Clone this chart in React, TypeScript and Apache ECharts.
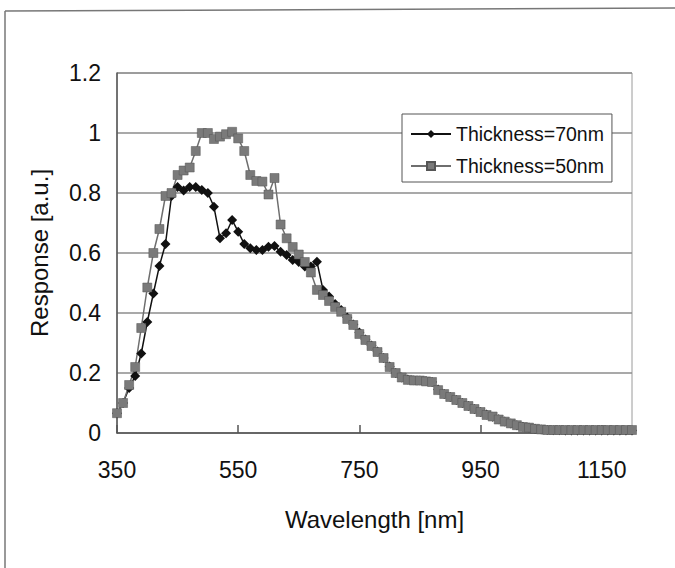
import React, { useEffect, useRef } from "react";
import * as echarts from "echarts";

const wavelengths = [
  350, 360, 370, 380, 390, 400, 410, 420, 430, 440, 450, 460, 470, 480, 490, 500,
  510, 520, 530, 540, 550, 560, 570, 580, 590, 600, 610, 620, 630, 640, 650, 660,
  670, 680, 690, 700, 710, 720, 730, 740, 750, 760, 770, 780, 790, 800, 810, 820,
  830, 840, 850, 860, 870, 880, 890, 900, 910, 920, 930, 940, 950, 960, 970, 980,
  990, 1000, 1010, 1020, 1030, 1040, 1050, 1060, 1070, 1080, 1090, 1100, 1110, 1120,
  1130, 1140, 1150, 1160, 1170, 1180, 1190, 1200,
];

const thickness70 = [
  0.066, 0.1, 0.15, 0.19, 0.265, 0.37, 0.465, 0.557, 0.63, 0.79, 0.82, 0.808, 0.82, 0.82, 0.81, 0.8,
  0.754, 0.649, 0.666, 0.71, 0.671, 0.63, 0.616, 0.61, 0.61, 0.621, 0.623, 0.604, 0.593, 0.577, 0.57, 0.555,
  0.555, 0.571, 0.477, 0.455, 0.43, 0.41, 0.385, 0.362, 0.335, 0.312, 0.292, 0.272, 0.25, 0.222, 0.2, 0.185,
  0.178, 0.176, 0.175, 0.173, 0.17, 0.145, 0.13, 0.12, 0.11, 0.1, 0.09, 0.08, 0.07, 0.062, 0.054, 0.046,
  0.038, 0.032, 0.026, 0.021, 0.018, 0.014, 0.012, 0.01, 0.009, 0.009, 0.008, 0.008, 0.008, 0.008,
  0.008, 0.008, 0.008, 0.008, 0.008, 0.008, 0.008, 0.008,
];

const thickness50 = [
  0.066, 0.1, 0.16, 0.22, 0.35, 0.485, 0.6, 0.68, 0.79, 0.8, 0.86, 0.875, 0.885, 0.94, 1.0, 1.0,
  0.98, 0.988, 0.996, 1.004, 0.982, 0.94, 0.86, 0.84, 0.838, 0.795, 0.85, 0.695, 0.649, 0.62, 0.595, 0.57,
  0.535, 0.477, 0.46, 0.44, 0.42, 0.404, 0.38, 0.36, 0.33, 0.31, 0.29, 0.27, 0.25, 0.22, 0.2, 0.185,
  0.177, 0.175, 0.175, 0.172, 0.17, 0.143, 0.13, 0.12, 0.11, 0.1, 0.09, 0.08, 0.07, 0.06, 0.055, 0.045,
  0.038, 0.032, 0.026, 0.02, 0.018, 0.014, 0.012, 0.01, 0.01, 0.01, 0.01, 0.01, 0.01, 0.01,
  0.01, 0.01, 0.01, 0.01, 0.01, 0.01, 0.01, 0.01,
];

const seriesNames = ["Thickness=70nm", "Thickness=50nm"];
const xTitle = "Wavelength [nm]";
const yTitle = "Response [a.u.]";

const FONT = "Liberation Sans, Arial, sans-serif";

export default function App() {
  const ref = useRef<HTMLDivElement>(null);
  useEffect(() => {
    document.body.style.margin = "0";
    const chart = echarts.init(ref.current!, undefined, { renderer: "svg" });
    const pairs = (ys: number[]) => wavelengths.map((w, i) => [w, ys[i]]);
    chart.setOption({
      animation: false,
      backgroundColor: "#ffffff",
      textStyle: { fontFamily: FONT },
      grid: { left: 117, right: 43, top: 73, bottom: 135, show: true, borderColor: "#9a9a9a", borderWidth: 1 },
      legend: {
        orient: "vertical",
        left: 402,
        top: 114,
        padding: [10, 8, 6, 8],
        itemGap: 12,
        itemWidth: 40,
        itemHeight: 10,
        borderColor: "#555",
        borderWidth: 1,
        backgroundColor: "#fff",
        textStyle: { fontSize: 19.5, color: "#111", fontFamily: FONT },
        data: seriesNames,
      },
      xAxis: {
        type: "value",
        min: 350,
        max: 1200,
        interval: 200,
        name: xTitle,
        nameLocation: "middle",
        nameGap: 74,
        nameTextStyle: { fontSize: 24, color: "#111", fontFamily: FONT },
        axisLine: { show: true, lineStyle: { color: "#555", width: 1.5 } },
        axisTick: { show: true, inside: true, length: 8, lineStyle: { color: "#555", width: 1.5 } },
        axisLabel: {
          fontSize: 23,
          color: "#111",
          margin: 25,
          showMaxLabel: false,
          fontFamily: FONT,
          formatter: (v: number) => String(v),
        },
        splitLine: { show: false },
      },
      yAxis: {
        type: "value",
        min: 0,
        max: 1.2,
        interval: 0.2,
        name: yTitle,
        nameLocation: "middle",
        nameGap: 66,
        nameTextStyle: { fontSize: 24, color: "#111", fontFamily: FONT },
        axisLine: { show: true, lineStyle: { color: "#555", width: 1.5 } },
        axisTick: { show: false },
        axisLabel: {
          fontSize: 23,
          color: "#111",
          margin: 16,
          fontFamily: FONT,
          formatter: (v: number) => String(Math.round(v * 10) / 10),
        },
        splitLine: { show: true, lineStyle: { color: "#8c8c8c", width: 1.5 } },
      },
      series: [
        {
          name: seriesNames[0],
          type: "line",
          data: pairs(thickness70),
          symbol: "diamond",
          symbolSize: 10,
          showAllSymbol: true,
          lineStyle: { color: "#111", width: 1.5 },
          itemStyle: { color: "#111" },
        },
        {
          name: seriesNames[1],
          type: "line",
          data: pairs(thickness50),
          symbol: "rect",
          symbolSize: 9,
          showAllSymbol: true,
          lineStyle: { color: "#6e6e6e", width: 1.5 },
          itemStyle: { color: "#7a7a7a", borderColor: "#555", borderWidth: 0.5 },
        },
      ],
      graphic: [
        { type: "line", shape: { x1: 5, y1: 11, x2: 675, y2: 8 }, style: { stroke: "#777", lineWidth: 1.5 } },
        { type: "line", shape: { x1: 5, y1: 11, x2: 5, y2: 568 }, style: { stroke: "#777", lineWidth: 1.5 } },
      ],
    });
    return () => chart.dispose();
  }, []);
  return <div ref={ref} style={{ position: "fixed", left: 0, top: 0, width: 675, height: 568 }} />;
}
